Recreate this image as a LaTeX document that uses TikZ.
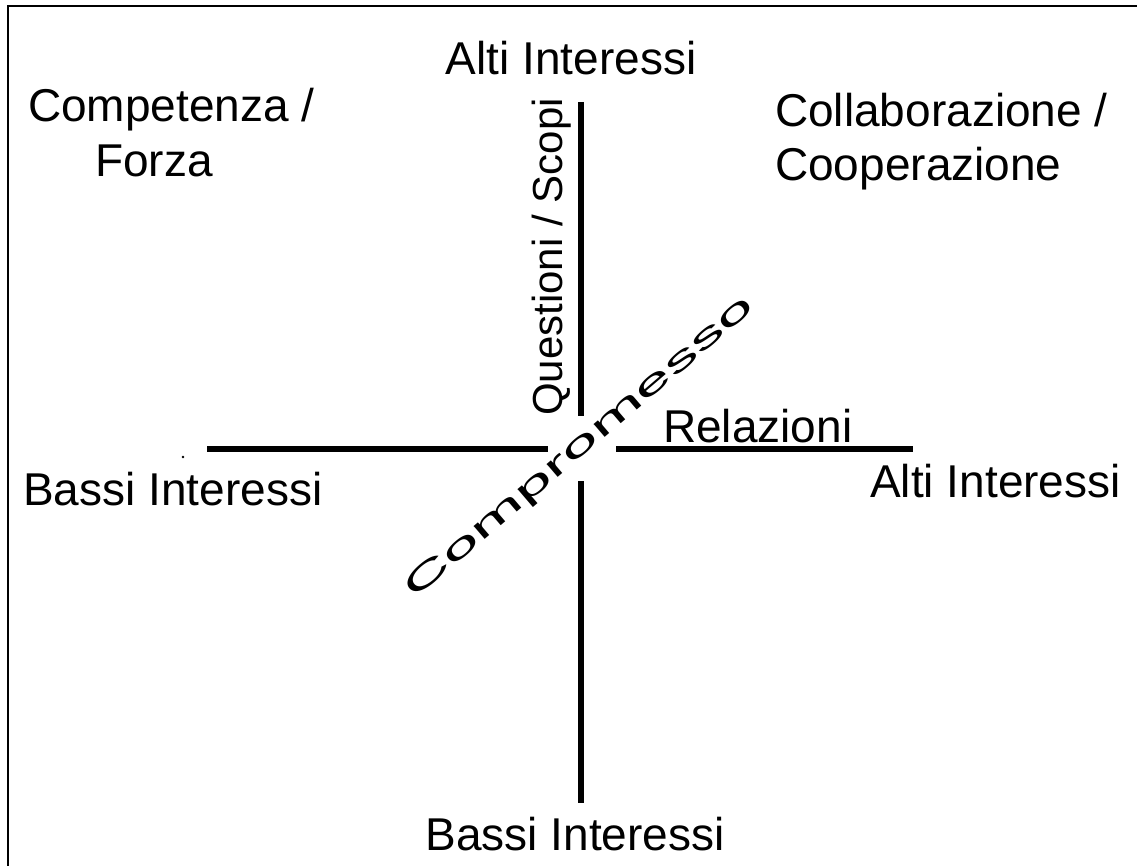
\documentclass[tikz,border=0pt]{standalone}
\usepackage{fontspec}
\setmainfont{Liberation Sans}
\begin{document}
\begin{tikzpicture}[x=1pt,y=-1pt,
  lbl/.style={inner sep=0pt, font=\fontsize{46}{55}\selectfont},
  axisline/.style={line width=6.5pt},
  framestroke/.style={line width=2.5pt}]
\useasboundingbox (0,0) rectangle (1137,866);
\fill[white] (0,0) rectangle (1137,866);

% outer frame (left and top edges)
\coordinate (fb) at (7.8,866);
\coordinate (fc) at (7.8,6);
\coordinate (fr) at (1137,6);
\draw[framestroke] (fb) -- (fc) -- (fr);

% axis end points
\coordinate (vt1) at (581,102);
\coordinate (vt2) at (581,416);
\coordinate (vb1) at (581,481);
\coordinate (vb2) at (581,803);
\coordinate (hl1) at (207,449);
\coordinate (hl2) at (548,449);
\coordinate (hr1) at (616,449);
\coordinate (hr2) at (913,449);

\draw[axisline] (vt1) -- (vt2);
\draw[axisline] (vb1) -- (vb2);
\draw[axisline] (hl1) -- (hl2);
\draw[axisline] (hr1) -- (hr2);

% stray dot
\fill (183,457) circle (1.4pt);

% labels
\node[lbl, anchor=base] (top) at (571,75) {Alti Interessi};
\node[lbl, anchor=base] (bottom) at (575,850) {Bassi Interessi};
\node[lbl, anchor=base west] (left) at (23,505) {Bassi Interessi};
\node[lbl, anchor=base west] (right) at (870,497) {Alti Interessi};
\node[lbl, anchor=base west] (rel) at (663,442) {Relazioni};
\node[lbl, anchor=base west] (comp1) at (28,122) {Competenza /};
\node[lbl, anchor=base west] (comp2) at (95,177) {Forza};
\node[lbl, anchor=base west] (coll1) at (775,127) {Collaborazione /};
\node[lbl, anchor=base west] (coll2) at (775,181) {Cooperazione};
\node[lbl, font=\fontsize{42}{50}\selectfont, rotate=90, anchor=center] (quest) at (552,257) {Questioni / Scopi};
% diagonal label, stretched along its direction
\node[lbl, rotate=40.5, xscale=1.5, yscale=0.7, anchor=center] (compr) at (580,448) {Compromesso};
\end{tikzpicture}
\end{document}
